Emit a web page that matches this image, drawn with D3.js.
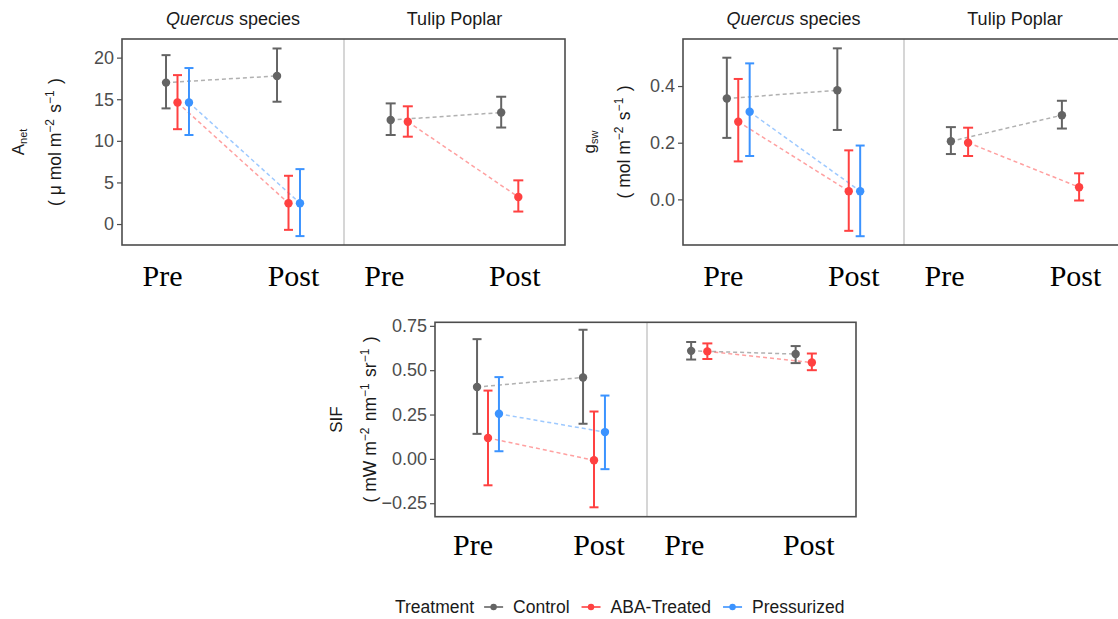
<!DOCTYPE html>
<html>
<head>
<meta charset="utf-8">
<script src="https://cdn.jsdelivr.net/npm/d3@7"></script>
<style>
  html, body { margin: 0; padding: 0; background: #fff; }
  svg { display: block; font-family: "Liberation Sans", Arial, sans-serif; }
</style>
</head>
<body>
<svg id="chart" width="1118" height="619"></svg>
<script>
// ---------------- DATA ----------------
const phases = ["Pre", "Post"];
const treatments = ["Control", "ABA-Treated", "Pressurized"];
const facetNames = ["Quercus species", "Tulip Poplar"];

// each entry: [mean, lower, upper] for Pre, Post
const anetQuercusControl   = [[17.0, 13.9, 20.3], [17.8, 14.7, 21.1]];
const anetQuercusABA       = [[14.6, 11.4, 17.9], [2.5, -0.7, 5.8]];
const anetQuercusPress     = [[14.6, 10.7, 18.75], [2.5, -1.45, 6.6]];
const anetTulipControl     = [[12.5, 10.7, 14.5], [13.4, 11.6, 15.3]];
const anetTulipABA         = [[12.3, 10.5, 14.15], [3.25, 1.5, 5.25]];

const gswQuercusControl    = [[0.356, 0.217, 0.500], [0.385, 0.245, 0.533]];
const gswQuercusABA        = [[0.274, 0.134, 0.425], [0.029, -0.111, 0.173]];
const gswQuercusPress      = [[0.309, 0.153, 0.480], [0.029, -0.130, 0.190]];
const gswTulipControl      = [[0.205, 0.160, 0.255], [0.297, 0.250, 0.348]];
const gswTulipABA          = [[0.200, 0.153, 0.253], [0.043, -0.004, 0.092]];

const sifQuercusControl    = [[0.405, 0.141, 0.675], [0.459, 0.198, 0.728]];
const sifQuercusABA        = [[0.118, -0.149, 0.385], [-0.008, -0.273, 0.267]];
const sifQuercusPress      = [[0.254, 0.043, 0.461], [0.151, -0.058, 0.357]];
const sifTulipControl      = [[0.609, 0.560, 0.659], [0.591, 0.540, 0.636]];
const sifTulipABA          = [[0.606, 0.563, 0.651], [0.543, 0.500, 0.594]];

const anetTicks = [0, 5, 10, 15, 20];
const gswTicks = [0.0, 0.2, 0.4];
const sifTicks = [-0.25, 0.00, 0.25, 0.50, 0.75];

// ---------------- STYLE / LAYOUT ----------------
const colorOf = { "Control": "#646464", "ABA-Treated": "#ff4141", "Pressurized": "#3b93ff" };
const labelShift = { "Pre": -15, "Post": 5 };
const SANS = "'Liberation Sans', Arial, sans-serif";
const SERIF = "'Liberation Serif', 'Times New Roman', serif";

const svg = d3.select("#chart");

function drawPanel(cfg) {
  const g = svg.append("g");
  const y = d3.scaleLinear().domain(cfg.yDomain).range([cfg.bottom, cfg.top]);

  cfg.facets.forEach((f, fi) => {
    const x = d3.scalePoint().domain(phases).range([f.left, f.right]).padding(0.5);
    const names = f.series.map(s => s.name);
    const dw = 0.31 * x.step();
    const dodge = d3.scaleBand().domain(names).range([-dw / 2, dw / 2]);
    const xp = (name, phase) => x(phase) + dodge(name) + dodge.bandwidth() / 2;
    const capW = names.length === 3 ? 9 : 10;

    // dashed connecting lines
    f.series.forEach(s => {
      const line = d3.line()
        .x((d, i) => xp(s.name, phases[i]))
        .y(d => y(d[0]));
      g.append("path")
        .attr("d", line(s.values))
        .attr("fill", "none")
        .attr("stroke", colorOf[s.name])
        .attr("stroke-opacity", 0.5)
        .attr("stroke-width", 1.5)
        .attr("stroke-dasharray", "4,3");
    });
    // error bars
    f.series.forEach(s => {
      s.values.forEach((d, i) => {
        const cx = xp(s.name, phases[i]);
        const c = colorOf[s.name];
        g.append("line").attr("x1", cx).attr("x2", cx)
          .attr("y1", y(d[1])).attr("y2", y(d[2]))
          .attr("stroke", c).attr("stroke-width", 2);
        [d[1], d[2]].forEach(v => {
          g.append("line").attr("x1", cx - capW / 2).attr("x2", cx + capW / 2)
            .attr("y1", y(v)).attr("y2", y(v))
            .attr("stroke", c).attr("stroke-width", 2);
        });
      });
    });
    // points
    f.series.forEach(s => {
      s.values.forEach((d, i) => {
        g.append("circle")
          .attr("cx", xp(s.name, phases[i])).attr("cy", y(d[0]))
          .attr("r", 4.2).attr("fill", colorOf[s.name]);
      });
    });
    // strip title
    if (cfg.strip) {
      const t = g.append("text")
        .attr("x", (f.left + f.right) / 2).attr("y", cfg.top - 14)
        .attr("text-anchor", "middle")
        .style("font-family", SANS)
        .attr("font-size", 18).attr("fill", "#1a1a1a");
      if (facetNames[fi] === "Quercus species") {
        t.append("tspan").attr("font-style", "italic").text("Quercus");
        t.append("tspan").text(" species");
      } else {
        t.text(facetNames[fi]);
      }
    }
    // serif x labels
    phases.forEach(p => {
      g.append("text")
        .attr("x", x(p) + labelShift[p]).attr("y", cfg.bottom + cfg.xLabelGap)
        .attr("text-anchor", "middle")
        .style("font-family", SERIF)
        .attr("font-size", 30).attr("fill", "#000")
        .text(p);
    });
  });

  // frame
  const left = cfg.facets[0].left, right = cfg.facets[cfg.facets.length - 1].right;
  g.append("line").attr("x1", cfg.facets[1].left).attr("x2", cfg.facets[1].left)
    .attr("y1", cfg.top).attr("y2", cfg.bottom)
    .attr("stroke", "#cccccc").attr("stroke-width", 1.6);
  g.append("rect").attr("x", left).attr("y", cfg.top)
    .attr("width", right - left).attr("height", cfg.bottom - cfg.top)
    .attr("fill", "none").attr("stroke", "#4d4d4d").attr("stroke-width", 1.6);

  // y axis
  const ax = g.append("g").attr("transform", `translate(${left},0)`)
    .call(d3.axisLeft(y).tickValues(cfg.ticks).tickFormat(cfg.fmt).tickSize(5).tickPadding(3));
  ax.select(".domain").remove();
  ax.selectAll(".tick line").attr("stroke", "#4d4d4d").attr("stroke-width", 1.2);
  ax.selectAll(".tick text").attr("fill", "#4d4d4d").attr("font-size", 18)
    .style("font-family", SANS);

  // y title (two lines, rotated)
  const cy = (cfg.top + cfg.bottom) / 2;
  const t1 = g.append("text")
    .attr("transform", `translate(${cfg.title1X},${cy}) rotate(-90)`)
    .attr("text-anchor", "middle").attr("font-size", 17).attr("fill", "#1a1a1a")
    .style("font-family", SANS);
  cfg.title1(t1);
  const t2 = g.append("text")
    .attr("transform", `translate(${cfg.title2X},${cy}) rotate(-90)`)
    .attr("text-anchor", "middle").attr("font-size", 17.5).attr("fill", "#1a1a1a")
    .style("font-family", SANS);
  cfg.title2(t2);
}

function sup(t, s) {
  t.append("tspan").attr("font-size", 12).attr("dy", -7).text(s);
  t.append("tspan").attr("dy", 7).text("\u200A");
}

// Panel A: Anet
drawPanel({
  top: 39, bottom: 245, yDomain: [-2.52, 22.24], ticks: anetTicks, fmt: d3.format("d"),
  strip: true, xLabelGap: 41,
  facets: [
    { left: 122, right: 344, series: [
      { name: "Control", values: anetQuercusControl },
      { name: "ABA-Treated", values: anetQuercusABA },
      { name: "Pressurized", values: anetQuercusPress } ] },
    { left: 344, right: 565, series: [
      { name: "Control", values: anetTulipControl },
      { name: "ABA-Treated", values: anetTulipABA } ] }
  ],
  title1X: 24, title2X: 61,
  title1: t => { t.append("tspan").text("A"); t.append("tspan").attr("font-size", 11).attr("dy", 3).text("net"); },
  title2: t => {
    t.append("tspan").text("( \u03bc mol m");
    sup(t, "\u22122");
    t.append("tspan").text(" s");
    sup(t, "\u22121");
    t.append("tspan").text(" )");
  }
});

// Panel B: gsw
drawPanel({
  top: 39, bottom: 245, yDomain: [-0.161, 0.566], ticks: gswTicks, fmt: d3.format(".1f"),
  strip: true, xLabelGap: 41,
  facets: [
    { left: 683, right: 904, series: [
      { name: "Control", values: gswQuercusControl },
      { name: "ABA-Treated", values: gswQuercusABA },
      { name: "Pressurized", values: gswQuercusPress } ] },
    { left: 904, right: 1126, series: [
      { name: "Control", values: gswTulipControl },
      { name: "ABA-Treated", values: gswTulipABA } ] }
  ],
  title1X: 595, title2X: 630,
  title1: t => { t.append("tspan").text("g"); t.append("tspan").attr("font-size", 11).attr("dy", 3).text("sw"); },
  title2: t => {
    t.append("tspan").text("( mol m");
    sup(t, "\u22122");
    t.append("tspan").text(" s");
    sup(t, "\u22121");
    t.append("tspan").text(" )");
  }
});

// Panel C: SIF
drawPanel({
  top: 322.3, bottom: 516.7, yDomain: [-0.326, 0.77], ticks: sifTicks, fmt: d3.format(".2f"),
  strip: false, xLabelGap: 38,
  facets: [
    { left: 435, right: 647, series: [
      { name: "Control", values: sifQuercusControl },
      { name: "ABA-Treated", values: sifQuercusABA },
      { name: "Pressurized", values: sifQuercusPress } ] },
    { left: 647, right: 856, series: [
      { name: "Control", values: sifTulipControl },
      { name: "ABA-Treated", values: sifTulipABA } ] }
  ],
  title1X: 342, title2X: 376,
  title1: t => { t.text("SIF"); },
  title2: t => {
    t.append("tspan").text("( mW m");
    sup(t, "\u22122");
    t.append("tspan").text(" nm");
    sup(t, "\u22121");
    t.append("tspan").text(" sr");
    sup(t, "\u22121");
    t.append("tspan").text(" )");
  }
});

// Legend
const lg = svg.append("g").attr("transform", "translate(395,613)");
let lx = 0;
const lt = lg.append("text").attr("x", lx).attr("y", 0).attr("font-size", 17.5)
  .style("font-family", SANS).attr("fill", "#1a1a1a").text("Treatment");
lx += lt.node().getComputedTextLength() + 10;
treatments.forEach(tr => {
  lg.append("line").attr("x1", lx).attr("x2", lx + 19).attr("y1", -6).attr("y2", -6)
    .attr("stroke", colorOf[tr]).attr("stroke-width", 1.6);
  lg.append("circle").attr("cx", lx + 9.5).attr("cy", -6).attr("r", 3.2).attr("fill", colorOf[tr]);
  lx += 19 + 10;
  const tt = lg.append("text").attr("x", lx).attr("y", 0).attr("font-size", 17.5)
    .style("font-family", SANS).attr("fill", "#1a1a1a").text(tr);
  lx += tt.node().getComputedTextLength() + 12;
});
</script>
</body>
</html>
